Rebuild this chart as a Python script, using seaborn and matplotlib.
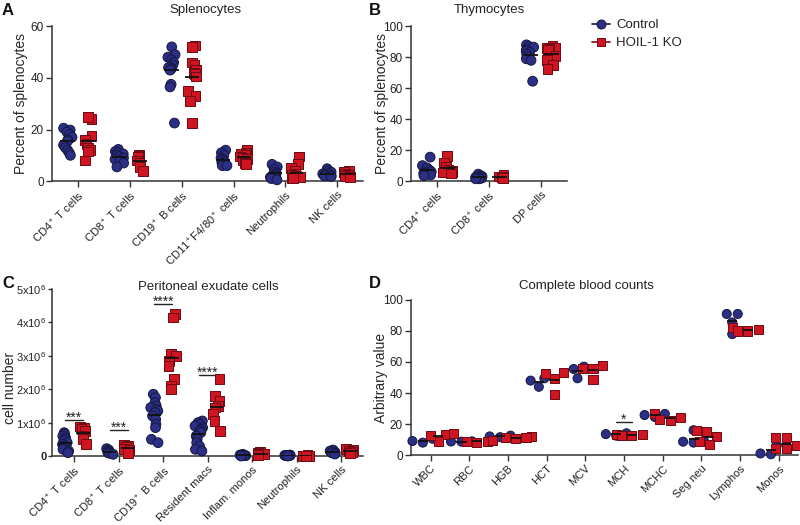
import numpy as np
import pandas as pd
import matplotlib
matplotlib.use("Agg")
import matplotlib.pyplot as plt
from matplotlib.lines import Line2D
import seaborn as sns

sns.set_theme(style="ticks")
plt.rcParams["font.family"] = ["Liberation Sans", "DejaVu Sans"]
plt.rcParams["mathtext.fontset"] = "custom"
plt.rcParams["mathtext.rm"] = "Liberation Sans"
plt.rcParams["mathtext.it"] = "Liberation Sans:italic"
plt.rcParams["mathtext.bf"] = "Liberation Sans:bold"
plt.rcParams["text.color"] = "#222222"
np.random.seed(7)  # only fixes the horizontal jitter of the dots

groups = ["Control", "HOIL-1 KO"]
BLUE, BLUE_EDGE = "#2b2f86", "#15173f"
RED, RED_EDGE = "#cf1422", "#6e0b12"

# A: splenocytes (% of splenocytes)
spleen_cats = ["CD4 T", "CD8 T", "CD19 B", "CD11b F4/80", "Neutrophils", "NK"]
spleen_labels = ["CD4$^+$ T cells", "CD8$^+$ T cells", "CD19$^+$ B cells",
                 "CD11$^+$F4/80$^+$ cells", "Neutrophils", "NK cells"]
spleen_ctrl = [
    [20.5, 19.8, 19, 18, 17, 16, 15.5, 14, 13, 12, 11, 10],
    [12.3, 11.5, 11, 10.5, 10, 9.5, 9, 8.5, 8, 7, 5.5],
    [52, 49, 48, 47, 46, 45, 44, 44, 43.5, 43, 37.5, 36.5, 22.5],
    [12, 11, 10, 9, 8.5, 8, 7.5, 7, 6.5, 6.5, 6, 6],
    [6.5, 5.5, 4.5, 3.5, 3, 2.5, 2, 1.5, 1, 0.5],
    [4.8, 4, 3.5, 3, 2.8, 2.5, 2.2, 2, 2, 1.8],
]
spleen_ko = [
    [24, 24.8, 17.5, 16, 14.5, 13, 12, 11.5, 8],
    [10.3, 9.8, 9.5, 8, 7, 5.5, 4],
    [52.5, 52, 46, 45, 43, 42, 41.5, 40.5, 35, 33, 31, 22.5],
    [12, 11, 10.5, 10, 9.5, 9, 8.5, 8, 7, 6.5],
    [9.5, 6.5, 5, 4, 3, 2.5, 2, 1.8, 1.5, 1.5, 1.2, 1.2],
    [4, 3.5, 3, 2.5, 2, 1.5],
]

# B: thymocytes
thymus_cats = ["CD4", "CD8", "DP"]
thymus_labels = ["CD4$^+$ cells", "CD8$^+$ cells", "DP cells"]
thymus_ctrl = [
    [15.5, 10, 8.5, 7, 6, 5.5, 5, 4.5, 4, 3.5],
    [4.5, 3.5, 3, 2.5, 2, 2, 1.5, 1.5],
    [88, 87, 86.5, 85, 84, 83, 82, 80.5, 79, 78, 64.5],
]
thymus_ko = [
    [16, 12, 9.5, 7.5, 6.5, 6, 5.5, 5.5, 5],
    [4, 3, 2.5, 2],
    [87.5, 86, 86, 85.5, 85, 84.5, 81, 78, 75, 72.5],
]

# C: peritoneal exudate cells (x10^6 cells)
pec_cats = ["CD4 T", "CD8 T", "CD19 B", "Resident macs", "Inflam. monos",
            "Neutrophils", "NK"]
pec_labels = ["CD4$^+$ T cells", "CD8$^+$ T cells", "CD19$^+$ B cells",
              "Resident macs", "Inflam. monos", "Neutrophils", "NK cells"]
pec_ctrl = [
    [0.7, 0.65, 0.6, 0.55, 0.5, 0.45, 0.4, 0.35, 0.35, 0.3, 0.25, 0.2, 0.15, 0.1],
    [0.22, 0.18, 0.15, 0.12, 0.1, 0.08, 0.05],
    [1.85, 1.75, 1.6, 1.5, 1.45, 1.4, 1.35, 1.3, 1.2, 1.1, 0.95, 0.85, 0.5, 0.4],
    [1.05, 1.0, 0.95, 0.9, 0.85, 0.8, 0.75, 0.7, 0.6, 0.5, 0.4, 0.3, 0.2, 0.15],
    [0.05, 0.04, 0.03, 0.02, 0.01, 0.01, 0.0],
    [0.03, 0.02, 0.02, 0.01, 0.01, 0.0],
    [0.18, 0.15, 0.12, 0.1, 0.08, 0.06],
]
pec_ko = [
    [0.88, 0.85, 0.8, 0.75, 0.6, 0.5, 0.35],
    [0.32, 0.3, 0.28, 0.22, 0.18, 0.1],
    [4.25, 4.15, 3.05, 3.0, 2.85, 2.7, 2.3, 2.1, 2.0],
    [2.3, 1.8, 1.65, 1.5, 1.45, 1.25, 1.05, 0.75],
    [0.12, 0.08, 0.06, 0.05, 0.03],
    [0.02, 0.01, 0.01, 0.0],
    [0.2, 0.18, 0.15, 0.12, 0.08],
]
pec_ticks = ["0", "1x10$^6$", "2x10$^6$", "3x10$^6$", "4x10$^6$", "5x10$^6$"]
pec_sig = [("CD4 T", "***", 1.08), ("CD8 T", "***", 0.78),
           ("CD19 B", "****", 4.55), ("Resident macs", "****", 2.42)]

# D: complete blood counts
cbc_cats = ["WBC", "RBC", "HGB", "HCT", "MCV", "MCH", "MCHC", "Seg neu",
            "Lymphos", "Monos"]
cbc_ctrl = [
    [10.5, 8, 9], [8.8, 8.7, 8.6], [12.5, 11.5, 12], [49.5, 44, 48],
    [57, 49.5, 55.5], [14, 12.5, 13.5], [26.5, 24.5, 25.8], [9.2, 8, 16, 8.6],
    [91, 91, 85.5, 78], [6, 0.5, 6, 1],
]
cbc_ko = [
    [13, 8.5, 14, 12.5], [9, 8, 9.5, 8.8], [11.8, 11, 10.5, 11.5],
    [52.5, 49.5, 53, 39], [56, 49, 58, 55.5], [13.5, 12.8, 12.5, 13],
    [24.5, 22.5, 26.5, 23], [15.7, 15, 11.8, 7, 9], [81, 82.5, 80, 80],
    [11, 11, 6, 4, 4],
]
cbc_sig = [("MCH", "*", 21)]


def long_df(cats, ctrl, ko):
    rows = []
    for c, a, b in zip(cats, ctrl, ko):
        rows += [(c, "Control", v) for v in a]
        rows += [(c, "HOIL-1 KO", v) for v in b]
    return pd.DataFrame(rows, columns=["cell", "group", "value"])


def draw_panel(ax, df, cats, swarm=False, size=7, jitter=0.18, mean_hw=0.14):
    pal = {"Control": BLUE, "HOIL-1 KO": RED}
    for g, mk, ec in [("Control", "o", BLUE_EDGE), ("HOIL-1 KO", "s", RED_EDGE)]:
        kws = dict(data=df[df["group"] == g], x="cell", y="value", hue="group",
                   hue_order=groups, order=cats, dodge=True, palette=pal,
                   marker=mk, size=size, edgecolor=ec, linewidth=0.7,
                   legend=False, ax=ax)
        if swarm:
            sns.swarmplot(**kws)
        else:
            sns.stripplot(jitter=jitter, **kws)
    # let dots sitting on the zero line show in full
    for coll in ax.collections:
        if len(coll.get_offsets()) > 0:
            coll.set_clip_on(False)
    # group means as short black bars over the dots
    means = df.groupby(["cell", "group"])["value"].mean()
    for (cat, g), m in means.items():
        xc = cats.index(cat) + (-0.2 if g == "Control" else 0.2)
        ax.hlines(m, xc - mean_hw, xc + mean_hw, color="#111111", lw=1.3,
                  zorder=5)
    sns.despine(ax=ax)
    ax.set_xlabel("")
    ax.set_xlim(-0.5, len(cats) - 0.5)
    for sp in ax.spines.values():
        sp.set_linewidth(1.1)
        sp.set_color("#333333")
    ax.tick_params(axis="both", direction="out", length=4, width=1.0,
                   color="#333333", labelsize=8.5, labelcolor="#222222", pad=2)
    ax.tick_params(axis="x", labelsize=8)


def add_sig(ax, cats, sig):
    for cat, stars, y in sig:
        i = cats.index(cat)
        ax.plot([i - 0.2, i + 0.2], [y, y], color="#222222", lw=1.0)
        ax.annotate(stars, xy=(i, y), xytext=(0, -1), textcoords="offset points",
                    ha="center", va="baseline", fontsize=10)


fig = plt.figure(figsize=(8, 5.25), dpi=100)
axA = fig.add_axes([0.065, 0.655, 0.389, 0.295])
axB = fig.add_axes([0.514, 0.655, 0.195, 0.295])
axC = fig.add_axes([0.065, 0.1314, 0.389, 0.318])
axD = fig.add_axes([0.514, 0.1333, 0.4835, 0.2953])

# A
draw_panel(axA, long_df(spleen_cats, spleen_ctrl, spleen_ko), spleen_cats)
axA.set_ylim(0, 60)
axA.set_yticks([0, 20, 40, 60])
axA.set_xticks(range(len(spleen_cats)))
axA.set_xticklabels(spleen_labels, rotation=45, ha="right", rotation_mode="anchor")
axA.set_ylabel("Percent of splenocytes", fontsize=10)
axA.yaxis.set_label_coords(-0.077, 0.5)

# B
draw_panel(axB, long_df(thymus_cats, thymus_ctrl, thymus_ko), thymus_cats)
axB.set_ylim(0, 100)
axB.set_yticks([0, 20, 40, 60, 80, 100])
axB.set_xticks(range(len(thymus_cats)))
axB.set_xticklabels(thymus_labels, rotation=45, ha="right", rotation_mode="anchor")
axB.set_ylabel("Percent of splenocytes", fontsize=10)
axB.yaxis.set_label_coords(-0.141, 0.5)

# C
draw_panel(axC, long_df(pec_cats, pec_ctrl, pec_ko), pec_cats, mean_hw=0.15)
axC.set_ylim(0, 5)
axC.set_yticks(range(len(pec_ticks)))
axC.set_yticklabels(pec_ticks)
axC.tick_params(axis="y", labelsize=8, length=3, pad=1)
axC.get_yticklabels()[0].set_fontweight("bold")
axC.set_xticks(range(len(pec_cats)))
axC.set_xticklabels(pec_labels, rotation=45, ha="right", rotation_mode="anchor")
axC.set_ylabel("cell number", fontsize=10)
axC.yaxis.set_label_coords(-0.111, 0.41)
add_sig(axC, pec_cats, pec_sig)

# D
draw_panel(axD, long_df(cbc_cats, cbc_ctrl, cbc_ko), cbc_cats, swarm=True,
           size=6.5, mean_hw=0.13)
axD.set_ylim(0, 100)
axD.set_yticks([0, 20, 40, 60, 80, 100])
axD.set_xticks(range(len(cbc_cats)))
axD.set_xticklabels(cbc_cats, rotation=45, ha="right", rotation_mode="anchor")
axD.set_ylabel("Arbitrary value", fontsize=10)
axD.yaxis.set_label_coords(-0.059, 0.5)
add_sig(axD, cbc_cats, cbc_sig)

# titles and panel letters
for txt, x, y in [("Splenocytes", 205, 10), ("Thymocytes", 489, 10),
                  ("Peritoneal exudate cells", 208, 287),
                  ("Complete blood counts", 586, 286)]:
    fig.text(x / 800, 1 - y / 525, txt, ha="center", va="center", fontsize=9.5)
for txt, x, y in [("A", 2, 3), ("B", 369, 3), ("C", 2, 276), ("D", 369, 276)]:
    fig.text(x / 800, 1 - y / 525, txt, ha="left", va="top", fontsize=12,
             fontweight="bold", color="#111111")

handles = [
    Line2D([0], [0], color=BLUE_EDGE, lw=1.2, marker="o", markersize=6.5,
           markerfacecolor=BLUE, markeredgecolor=BLUE_EDGE, markeredgewidth=0.7),
    Line2D([0], [0], color=RED_EDGE, lw=1.2, marker="s", markersize=6,
           markerfacecolor=RED, markeredgecolor=RED_EDGE, markeredgewidth=0.7),
]
fig.legend(handles, groups, loc="upper left", bbox_to_anchor=(592 / 800, 1 - 19 / 525),
           frameon=False, fontsize=9.5, handlelength=1.4, handletextpad=0.45,
           labelspacing=0.45, borderpad=0, borderaxespad=0)

fig.savefig("out.png", dpi=100)
